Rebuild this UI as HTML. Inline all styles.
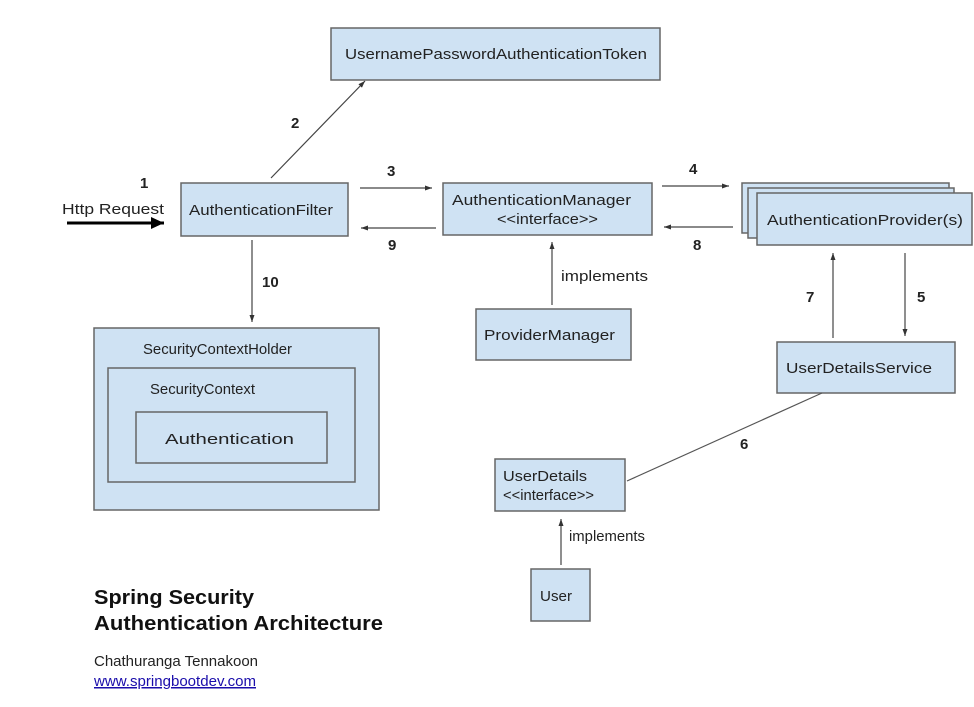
<!DOCTYPE html>
<html><head><meta charset="utf-8"><style>
html,body{margin:0;padding:0;background:#fff;}
svg{display:block;font-family:"Liberation Sans",sans-serif;}
</style></head><body>
<svg width="974" height="707" viewBox="0 0 974 707" xmlns="http://www.w3.org/2000/svg">
<defs>
<marker id="a" markerWidth="8" markerHeight="8" refX="7" refY="4" orient="auto" markerUnits="userSpaceOnUse">
<path d="M0,1.5 L7,4 L0,6.5 Z" fill="#333"/></marker>
<marker id="b" markerWidth="14" markerHeight="14" refX="13" refY="7" orient="auto" markerUnits="userSpaceOnUse">
<path d="M0,1 L13,7 L0,13 Z" fill="#000"/></marker>
</defs>
<g fill="#cfe2f3" stroke="#666" stroke-width="1.5">
<rect x="331" y="28" width="329" height="52"/>
<rect x="181" y="183" width="167" height="53"/>
<rect x="443" y="183" width="209" height="52"/>
<rect x="742" y="183" width="207" height="50"/>
<rect x="748" y="188" width="206" height="50"/>
<rect x="757" y="193" width="215" height="52"/>
<rect x="476" y="309" width="155" height="51"/>
<rect x="777" y="342" width="178" height="51"/>
<rect x="94" y="328" width="285" height="182"/>
<rect x="108" y="368" width="247" height="114"/>
<rect x="136" y="412" width="191" height="51"/>
<rect x="495" y="459" width="130" height="52"/>
<rect x="531" y="569" width="59" height="52"/>
</g>
<g stroke="#444" stroke-width="1.2" fill="none" marker-end="url(#a)">
<line x1="271" y1="178" x2="365" y2="81"/>
<line x1="360" y1="188" x2="432" y2="188"/>
<line x1="436" y1="228" x2="361" y2="228"/>
<line x1="662" y1="186" x2="729" y2="186"/>
<line x1="733" y1="227" x2="664" y2="227"/>
<line x1="252" y1="240" x2="252" y2="322"/>
<line x1="552" y1="305" x2="552" y2="242"/>
<line x1="833" y1="338" x2="833" y2="253"/>
<line x1="905" y1="253" x2="905" y2="336"/>
<line x1="561" y1="565" x2="561" y2="519"/>
</g>
<line x1="822" y1="393" x2="627" y2="481" stroke="#555" stroke-width="1.2"/>
<line x1="67" y1="223" x2="164" y2="223" stroke="#000" stroke-width="3" marker-end="url(#b)"/>
<g font-size="15" fill="#222">
<text x="345" y="59" textLength="302" lengthAdjust="spacingAndGlyphs">UsernamePasswordAuthenticationToken</text>
<text x="189" y="215" textLength="144" lengthAdjust="spacingAndGlyphs">AuthenticationFilter</text>
<text x="452" y="205" textLength="179" lengthAdjust="spacingAndGlyphs">AuthenticationManager</text>
<text x="497" y="224" textLength="101" lengthAdjust="spacingAndGlyphs">&lt;&lt;interface&gt;&gt;</text>
<text x="767" y="225" textLength="196" lengthAdjust="spacingAndGlyphs">AuthenticationProvider(s)</text>
<text x="484" y="340" textLength="131" lengthAdjust="spacingAndGlyphs">ProviderManager</text>
<text x="786" y="373" textLength="146" lengthAdjust="spacingAndGlyphs">UserDetailsService</text>
<text x="143" y="354" textLength="149" lengthAdjust="spacingAndGlyphs">SecurityContextHolder</text>
<text x="150" y="394" textLength="105" lengthAdjust="spacingAndGlyphs">SecurityContext</text>
<text x="165" y="444" textLength="129" lengthAdjust="spacingAndGlyphs">Authentication</text>
<text x="503" y="481" textLength="84" lengthAdjust="spacingAndGlyphs">UserDetails</text>
<text x="503" y="500" textLength="91" lengthAdjust="spacingAndGlyphs">&lt;&lt;interface&gt;&gt;</text>
<text x="540" y="601" textLength="32" lengthAdjust="spacingAndGlyphs">User</text>
<text x="561" y="281" textLength="87" lengthAdjust="spacingAndGlyphs">implements</text>
<text x="569" y="541" textLength="76" lengthAdjust="spacingAndGlyphs">implements</text>
<text x="62" y="214" textLength="102" lengthAdjust="spacingAndGlyphs">Http Request</text>
</g>
<g font-size="15" font-weight="bold" fill="#222">
<text x="140" y="188">1</text>
<text x="291" y="128">2</text>
<text x="387" y="176">3</text>
<text x="689" y="174">4</text>
<text x="917" y="302">5</text>
<text x="740" y="449">6</text>
<text x="806" y="302">7</text>
<text x="693" y="250">8</text>
<text x="388" y="250">9</text>
<text x="262" y="287">10</text>
</g>
<g font-size="20" font-weight="bold" fill="#111">
<text x="94" y="604" textLength="160" lengthAdjust="spacingAndGlyphs">Spring Security</text>
<text x="94" y="630" textLength="289" lengthAdjust="spacingAndGlyphs">Authentication Architecture</text>
</g>
<text x="94" y="666" font-size="15" fill="#222" textLength="164" lengthAdjust="spacingAndGlyphs">Chathuranga Tennakoon</text>
<text x="94" y="686" font-size="15" fill="#1a0dab" text-decoration="underline" textLength="162" lengthAdjust="spacingAndGlyphs">www.springbootdev.com</text>
</svg>
</body></html>
